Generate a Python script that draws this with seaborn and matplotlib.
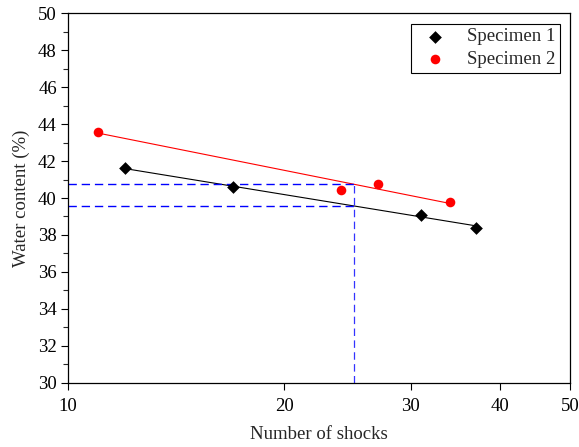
import numpy as np
import pandas as pd
import matplotlib
matplotlib.use("Agg")
import matplotlib.pyplot as plt
from matplotlib.ticker import FixedLocator, NullLocator, MultipleLocator, FixedFormatter
import seaborn as sns

# Number of shocks vs. water content for the two specimens
shocks_1 = [12, 17, 31, 37]
water_1 = [41.6, 40.6, 39.1, 38.4]
shocks_2 = [11, 24, 27, 34]
water_2 = [43.6, 40.45, 40.75, 39.8]
specimens = ["Specimen 1", "Specimen 2"]
target_shocks = 25  # reference number of shocks

x_ticks = [10, 20, 30, 40, 50]
x_tick_labels = ["10", "20", "30", "40", "50"]

df = pd.DataFrame({
    "shocks": shocks_1 + shocks_2,
    "water": water_1 + water_2,
    "specimen": [specimens[0]] * len(shocks_1) + [specimens[1]] * len(shocks_2),
})

sns.set_style("ticks")
plt.rcParams["font.family"] = ["Liberation Serif", "DejaVu Serif"]
plt.rcParams["mathtext.fontset"] = "stix"

fig = plt.figure(figsize=(5.79, 4.47), dpi=100)
ax = fig.add_axes([0.1174, 0.1438, 0.8671, 0.8264])

palette = {specimens[0]: "black", specimens[1]: "red"}
markers = {specimens[0]: "D", specimens[1]: "o"}
sizes = {specimens[0]: 42, specimens[1]: 48}

# Semi-log fit lines (water content linear in log of shocks)
fits = {}
for name, color in palette.items():
    sub = df[df["specimen"] == name]
    sns.regplot(data=sub, x="shocks", y="water", logx=True, ci=None,
                scatter=False, truncate=True, ax=ax,
                line_kws=dict(color=color, lw=0.8))
    fits[name] = np.polyfit(np.log(sub["shocks"]), sub["water"], 1)

for name in specimens:
    sub = df[df["specimen"] == name]
    sns.scatterplot(data=sub, x="shocks", y="water", color=palette[name],
                    marker=markers[name], s=sizes[name], linewidth=0,
                    label=name, ax=ax, zorder=3)

# Dashed guides at the reference number of shocks
w_at_target = [np.polyval(fits[n], np.log(target_shocks)) for n in specimens]
dash = dict(color="blue", lw=1.0, ls=(0, (6, 3.5)))
for w in w_at_target:
    ax.plot([10, target_shocks], [w, w], **dash)
ax.plot([target_shocks, target_shocks], [30, max(w_at_target) + 0.2],
        color="blue", lw=0.9, ls=(0, (6, 3.5)), alpha=0.8)

ax.set_xscale("log")
ax.set_xlim(10, 50)
ax.set_ylim(30, 50)
ax.xaxis.set_major_locator(FixedLocator(x_ticks))
ax.xaxis.set_major_formatter(FixedFormatter(x_tick_labels))
ax.xaxis.set_minor_locator(NullLocator())
ax.yaxis.set_major_locator(MultipleLocator(2))
ax.yaxis.set_minor_locator(MultipleLocator(1))

ax.tick_params(axis="both", which="major", direction="out", length=5,
               width=0.8, labelsize=13.5, colors="black", pad=3)
ax.tick_params(axis="x", which="major", pad=6)
ax.tick_params(axis="y", which="minor", direction="out", length=3.5, width=0.8)
for sp in ax.spines.values():
    sp.set_visible(True)
    sp.set_linewidth(0.9)
    sp.set_color("black")

ax.set_xlabel("Number of shocks", fontsize=13.5, labelpad=8)
ax.set_ylabel("Water content (%)", fontsize=13.5, labelpad=6)

leg = ax.legend(loc="upper right", fontsize=13.5, frameon=True, fancybox=False,
                edgecolor="black", framealpha=1, borderaxespad=0.55,
                labelspacing=0.3, handletextpad=0.7, handlelength=2.0,
                borderpad=0.25)
leg.get_frame().set_linewidth(0.8)

fig.savefig("out.png", dpi=100)
